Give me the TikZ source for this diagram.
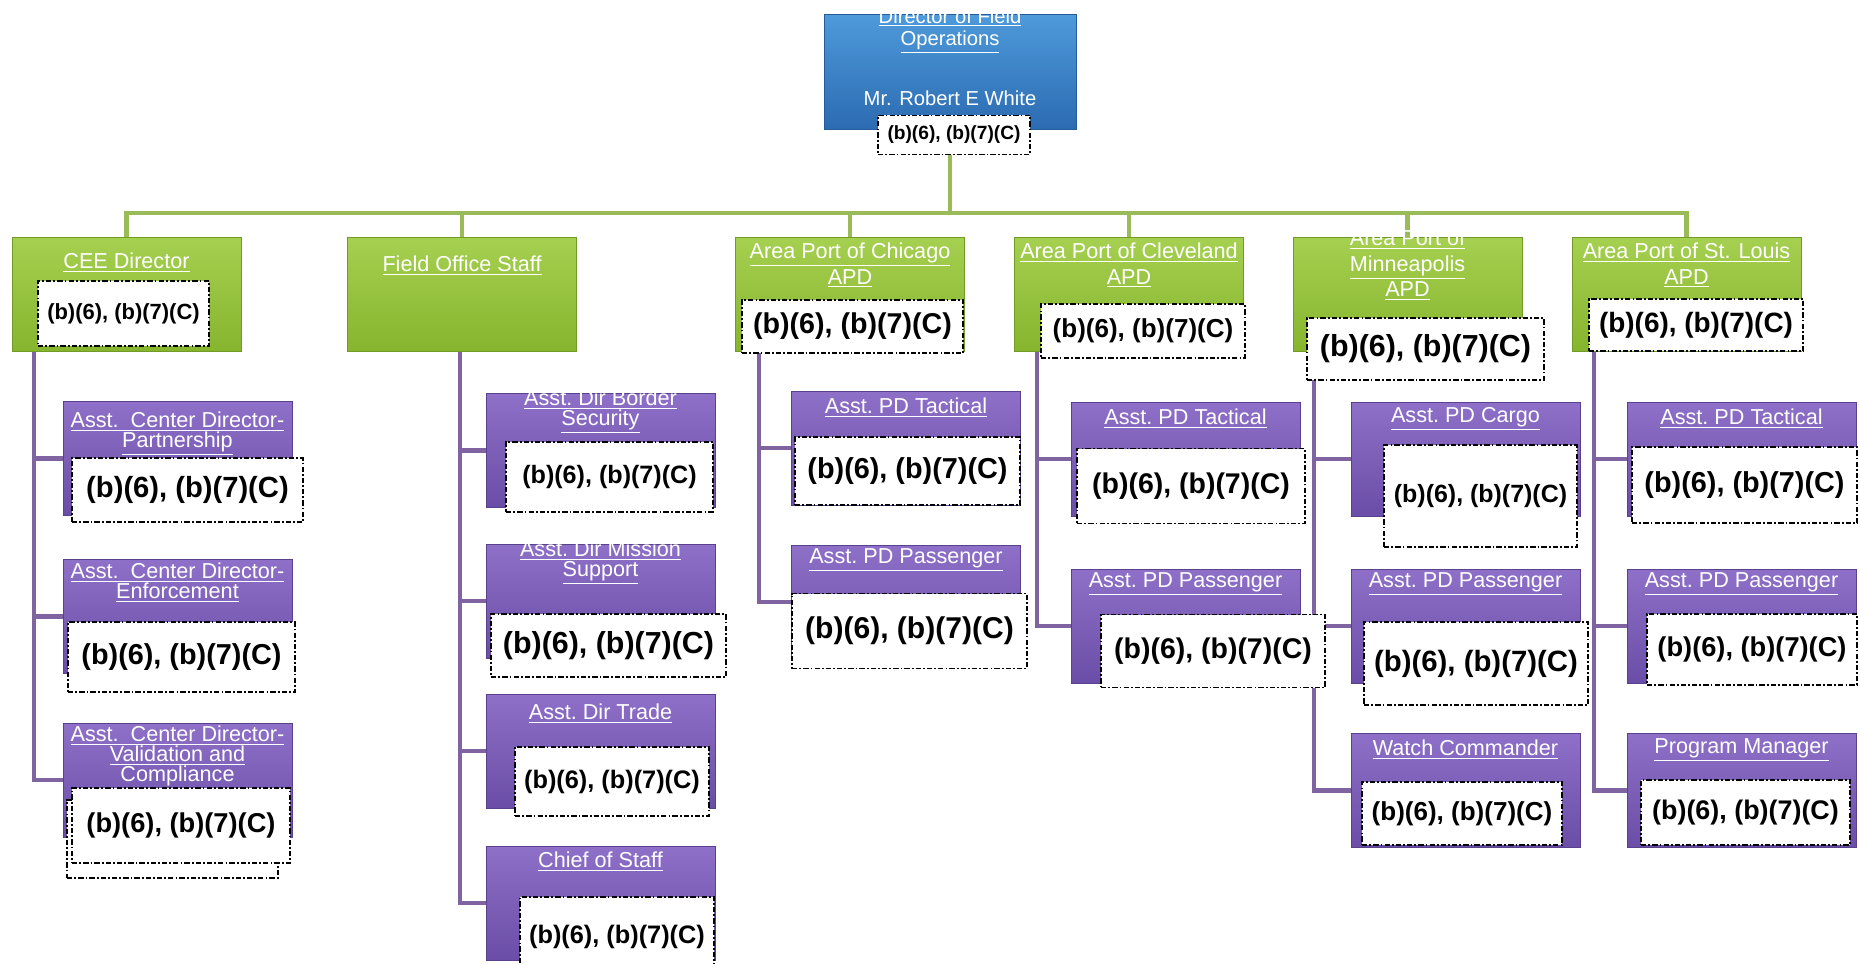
\documentclass[tikz,border=0pt]{standalone}
\usepackage{fontspec}
\setmainfont{Liberation Sans}
\usepackage{tikz}
\usetikzlibrary{backgrounds}
\usetikzlibrary{calc}
\pgfdeclarelayer{bg}
\pgfsetlayers{bg,main}

\definecolor{grnTop}{HTML}{A6D050}
\definecolor{grnBot}{HTML}{86B52E}
\definecolor{purTop}{HTML}{8E70C8}
\definecolor{purBot}{HTML}{6A4DA6}
\definecolor{bluTop}{HTML}{4E9ADB}
\definecolor{bluBot}{HTML}{2C6BB1}
\definecolor{grnLine}{HTML}{9BBB59}
\definecolor{purLine}{HTML}{8064A2}

\newcommand{\uln}[1]{\underline{#1}}
\newcommand{\redtxt}{(b)(6), (b)(7)(C)}

\begin{document}
\begin{tikzpicture}[
    x=0.2mm, y=-0.2mm,
    box/.style 2 args={rectangle, inner sep=0pt, outer sep=0pt,
      minimum width=#1*0.2mm, minimum height=#2*0.2mm},
    dbox/.style={box={252}{115}, top color=bluTop, bottom color=bluBot,
      draw=bluBot!85!black, line width=0.5pt},
    gbox/.style={box={229}{114}, top color=grnTop, bottom color=grnBot,
      draw=grnBot!85!black, line width=0.5pt},
    pbox/.style={box={229}{114}, top color=purTop, bottom color=purBot,
      draw=purBot!85!black, line width=0.5pt},
    dttl/.style={text=white, align=center, inner sep=0pt,
      font=\fontsize{11.5}{13}\selectfont},
    gttl/.style={text=white, align=center, inner sep=0pt,
      font=\fontsize{12.3}{14.5}\selectfont},
    pttl/.style={text=white, align=center, inner sep=0pt,
      font=\fontsize{12.3}{11.4}\selectfont},
    red/.style n args={3}{box={#1}{#2}, fill=white, draw=black,
      line width=0.6pt, dash pattern=on 3pt off 1.2pt on 1pt off 1.2pt,
      font=\fontsize{#3}{#3}\selectfont\bfseries},
    gline/.style={draw=grnLine, line width=2.6pt},
    pline/.style={draw=purLine, line width=2.7pt},
  ]
  \useasboundingbox (0,0) rectangle (1860,964);

  % director
  \node[dbox] (dfo) at (950,72) {};
  \node[dttl] (dfot) at (950,31) {\uln{Director of Field}\\\uln{Operations}};
  \node[dttl] (dfon) at (950,98) {Mr. Robert E White};
  \node[red={152}{39}{10.9}] (dfor) at (954,135) {\redtxt};

  % second row
  \node[gbox] (cee) at (126.5,294) {};
  \node[gbox] (fos) at (462,294) {};
  \node[gbox] (chi) at (850,294) {};
  \node[gbox] (cle) at (1129,294) {};
  \node[gbox] (msp) at (1407.5,294) {};
  \node[gbox] (stl) at (1686.5,294) {};

  \node[gttl] (ceet) at (126.5,263) {\uln{CEE Director}};
  \node[gttl] (fost) at (462,266) {\uln{Field Office Staff}};
  \node[gttl] (chit) at (850,265.5) {\uln{Area Port of Chicago}\\\uln{APD}};
  \node[gttl] (clet) at (1129,265.5) {\uln{Area Port of Cleveland}\\\uln{APD}};
  \node[gttl] (mspt) at (1407.5,265) {\uln{Area Port of}\\\uln{Minneapolis}\\\uln{APD}};
  \node[gttl] (stlt) at (1686.5,265.5) {\uln{Area Port of St. Louis}\\\uln{APD}};

  \node[red={171}{65}{12.5}] (ceer) at (123.5,313.5) {\redtxt};
  \node[red={221}{53}{16.3}] (chir) at (852.5,326.5) {\redtxt};
  \node[red={204}{54}{14.8}] (cler) at (1143,331) {\redtxt};
  \node[red={237}{62}{17.3}] (mspr) at (1425.5,349) {\redtxt};
  \node[red={214}{52}{15.9}] (stlr) at (1696,325) {\redtxt};

  % CEE Director staff
  \node[pbox] (cee1) at (177.5,458.5) {};
  \node[pbox] (cee2) at (177.5,616.5) {};
  \node[pbox] (cee3) at (177.5,780) {};
  \node[pttl] (cee1t) at (177.5,434) {\uln{Asst.\ \ Center Director-}\\\uln{Partnership}};
  \node[pttl] (cee2t) at (177.5,583) {\uln{Asst.\ \ Center Director-}\\\uln{Enforcement}};
  \node[pttl] (cee3t) at (177.5,758) {\uln{Asst.\ \ Center Director-}\\\uln{Validation and}\\\uln{Compliance}};
  \node[red={231}{64}{16.6}] (cee1r) at (187.5,490) {\redtxt};
  \node[red={227}{70}{16.4}] (cee2r) at (181.5,657) {\redtxt};
  \node[red={211}{78}{10}] (cee3s) at (172.5,839) {};
  \node[red={218}{75}{15.5}] (cee3r) at (181,825.5) {\redtxt};

  % Field Office Staff
  \node[pbox] (fos1) at (600.5,450.5) {};
  \node[pbox] (fos2) at (600.5,601) {};
  \node[pbox] (fos3) at (600.5,751) {};
  \node[pbox] (fos4) at (600.5,903) {};
  \node[pttl] (fos1t) at (600.5,412) {\uln{Asst.\ Dir Border}\\\uln{Security}};
  \node[pttl] (fos2t) at (600.5,563) {\uln{Asst.\ Dir Mission}\\\uln{Support}};
  \node[pttl] (fos3t) at (600.5,714) {\uln{Asst.\ Dir Trade}};
  \node[pttl] (fos4t) at (600.5,862) {\uln{Chief of Staff}};
  \node[red={207}{70}{14.3}] (fos1r) at (609.5,477) {\redtxt};
  \node[red={235}{63}{17.3}] (fos2r) at (608.5,645.5) {\redtxt};
  \node[red={194}{69}{14.4}] (fos3r) at (612,781.5) {\redtxt};
  \node[red={194}{80}{14.4}] (fos4r) at (617,937) {\redtxt};

  % Chicago
  \node[pbox] (chi1) at (906,448) {};
  \node[pbox] (chi2) at (906,602) {};
  \node[pttl] (chi1t) at (906,408) {\uln{Asst.\ PD Tactical}};
  \node[pttl] (chi2t) at (906,560) {\uln{Asst.\ PD Passenger}};
  \node[red={225}{68}{16.4}] (chi1r) at (907.5,471) {\redtxt};
  \node[red={235}{75}{17.1}] (chi2r) at (909.5,631) {\redtxt};

  % Cleveland
  \node[pbox] (cle1) at (1185.5,459) {};
  \node[pbox] (cle2) at (1185.5,626) {};
  \node[pttl] (cle1t) at (1185.5,419) {\uln{Asst.\ PD Tactical}};
  \node[pttl] (cle2t) at (1185.5,584) {\uln{Asst.\ PD Passenger}};
  \node[red={228}{75}{16.2}] (cle1r) at (1191,486) {\redtxt};
  \node[red={224}{73}{16.2}] (cle2r) at (1213,651) {\redtxt};

  % Minneapolis
  \node[pbox] (msp1) at (1465.5,459) {};
  \node[pbox] (msp2) at (1465.5,626) {};
  \node[pbox] (msp3) at (1465.5,790.5) {};
  \node[pttl] (msp1t) at (1465.5,419) {\uln{Asst.\ PD Cargo}};
  \node[pttl] (msp2t) at (1465.5,584) {\uln{Asst.\ PD Passenger}};
  \node[pttl] (msp3t) at (1465.5,750) {\uln{Watch Commander}};
  \node[red={193}{102}{14.2}] (msp1r) at (1480.5,496) {\redtxt};
  \node[red={224}{83}{16.7}] (msp2r) at (1476,663.5) {\redtxt};
  \node[red={200}{63}{14.8}] (msp3r) at (1462,813.5) {\redtxt};

  % St. Louis
  \node[pbox] (stl1) at (1741.5,459) {};
  \node[pbox] (stl2) at (1741.5,626) {};
  \node[pbox] (stl3) at (1741.5,790.5) {};
  \node[pttl] (stl1t) at (1741.5,419) {\uln{Asst.\ PD Tactical}};
  \node[pttl] (stl2t) at (1741.5,584) {\uln{Asst.\ PD Passenger}};
  \node[pttl] (stl3t) at (1741.5,750) {\uln{Program Manager}};
  \node[red={225}{76}{16.4}] (stl1r) at (1744.5,485) {\redtxt};
  \node[red={210}{71}{15.5}] (stl2r) at (1752,649.5) {\redtxt};
  \node[red={209}{65}{15.3}] (stl3r) at (1745.5,812.5) {\redtxt};

  \begin{pgfonlayer}{bg}
    \coordinate (bar) at (950,213);
    \draw[gline] (dfo) -- (bar);
    \foreach \n in {cee,fos,chi,cle,msp,stl}
      \draw[gline] (bar) -| (\n);

    \coordinate (ceeS) at (34,351);
    \coordinate (fosS) at (460,351);
    \coordinate (chiS) at (759,351);
    \coordinate (cleS) at (1037,351);
    \coordinate (mspS) at (1314,351);
    \coordinate (stlS) at (1594,351);
    \begin{scope}[pline]
      \foreach \k in {1,2,3} \draw (ceeS) |- (cee\k);
      \foreach \k in {1,2,3,4} \draw (fosS) |- (fos\k);
      \foreach \k in {1,2} \draw (chiS) |- (chi\k);
      \foreach \k in {1,2} \draw (cleS) |- (cle\k);
      \foreach \k in {1,2,3} \draw (mspS) |- (msp\k);
      \foreach \k in {1,2,3} \draw (stlS) |- (stl\k);
    \end{scope}
  \end{pgfonlayer}
\end{tikzpicture}
\end{document}
